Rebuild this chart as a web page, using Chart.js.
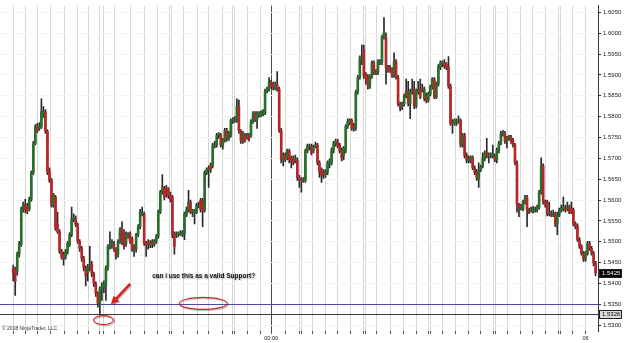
<!DOCTYPE html>
<html>
<head>
<meta charset="utf-8">
<script src="https://cdn.jsdelivr.net/npm/chart.js@4.4.0/dist/chart.umd.min.js"></script>
<style>
  html, body { margin: 0; padding: 0; background: #fff; }
  canvas { display: block; }
</style>
</head>
<body>
<canvas id="chart" width="625" height="343"></canvas>
<script>
// 10-minute bars (bar 0 = left edge)
const opens = [
  1.5437,1.5434,1.5430,1.5470,1.5493,1.5578,1.5588,1.5585,1.5578,1.5602,
  1.5666,1.5736,1.5779,1.5772,1.5776,1.5802,1.5812,1.5765,1.5670,1.5647,
  1.5588,1.5607,1.5541,1.5524,1.5477,1.5468,1.5465,1.5477,1.5493,1.5517,
  1.5552,1.5555,1.5541,1.5501,1.5484,1.5460,1.5437,1.5425,1.5439,1.5446,
  1.5423,1.5399,1.5376,1.5347,1.5387,1.5390,1.5394,1.5437,1.5486,1.5491,
  1.5493,1.5482,1.5470,1.5501,1.5529,1.5520,1.5496,1.5515,1.5520,1.5508,
  1.5486,1.5482,1.5517,1.5536,1.5567,1.5567,1.5496,1.5501,1.5493,1.5501,
  1.5493,1.5501,1.5512,1.5571,1.5619,1.5628,1.5630,1.5626,1.5611,1.5607,
  1.5520,1.5517,1.5517,1.5517,1.5517,1.5520,1.5564,1.5576,1.5595,1.5571,
  1.5571,1.5571,1.5585,1.5600,1.5597,1.5576,1.5666,1.5673,1.5684,1.5682,
  1.5729,1.5732,1.5755,1.5755,1.5729,1.5743,1.5767,1.5748,1.5755,1.5791,
  1.5791,1.5791,1.5826,1.5765,1.5746,1.5755,1.5751,1.5755,1.5755,1.5788,
  1.5807,1.5793,1.5802,1.5805,1.5807,1.5809,1.5861,1.5866,1.5883,1.5878,
  1.5868,1.5878,1.5866,1.5767,1.5696,1.5708,1.5701,1.5718,1.5701,1.5701,
  1.5694,1.5696,1.5654,1.5649,1.5647,1.5647,1.5718,1.5727,1.5729,1.5718,
  1.5729,1.5732,1.5689,1.5673,1.5668,1.5661,1.5666,1.5689,1.5689,1.5720,
  1.5734,1.5741,1.5732,1.5720,1.5706,1.5720,1.5776,1.5786,1.5791,1.5779,
  1.5772,1.5859,1.5894,1.5937,1.5960,1.5901,1.5897,1.5873,1.5897,1.5930,
  1.5908,1.5906,1.5930,1.5930,1.5991,1.5991,1.5918,1.5918,1.5913,1.5899,
  1.5932,1.5894,1.5831,1.5824,1.5831,1.5850,1.5861,1.5831,1.5859,1.5866,
  1.5826,1.5859,1.5866,1.5866,1.5843,1.5852,1.5840,1.5854,1.5871,1.5890,
  1.5847,1.5878,1.5918,1.5927,1.5930,1.5925,1.5920,1.5873,1.5788,1.5784,
  1.5786,1.5788,1.5791,1.5732,1.5755,1.5708,1.5694,1.5696,1.5701,1.5677,
  1.5666,1.5649,1.5673,1.5682,1.5699,1.5713,1.5706,1.5706,1.5706,1.5706,
  1.5696,1.5718,1.5736,1.5758,1.5760,1.5743,1.5748,1.5751,1.5743,1.5732,
  1.5689,1.5588,1.5585,1.5578,1.5595,1.5607,1.5576,1.5576,1.5574,1.5576,
  1.5576,1.5583,1.5619,1.5682,1.5595,1.5595,1.5567,1.5569,1.5564,1.5567,
  1.5543,1.5564,1.5576,1.5578,1.5581,1.5578,1.5583,1.5581,1.5576,1.5543,
  1.5538,1.5505,1.5489,1.5472,1.5458,1.5472,1.5496,1.5484,1.5472,1.5449
];
const highs = [
  1.5444,1.5439,1.5475,1.5501,1.5583,1.5595,1.5602,1.5592,1.5607,1.5670,
  1.5741,1.5781,1.5784,1.5786,1.5843,1.5824,1.5817,1.5769,1.5677,1.5652,
  1.5616,1.5611,1.5571,1.5529,1.5482,1.5475,1.5482,1.5501,1.5522,1.5583,
  1.5567,1.5562,1.5545,1.5505,1.5489,1.5465,1.5442,1.5446,1.5489,1.5453,
  1.5427,1.5404,1.5380,1.5392,1.5402,1.5406,1.5442,1.5493,1.5524,1.5505,
  1.5501,1.5486,1.5505,1.5534,1.5548,1.5529,1.5524,1.5522,1.5524,1.5512,
  1.5493,1.5520,1.5541,1.5578,1.5583,1.5571,1.5501,1.5505,1.5503,1.5505,
  1.5505,1.5517,1.5576,1.5623,1.5661,1.5633,1.5635,1.5630,1.5619,1.5611,
  1.5524,1.5524,1.5524,1.5527,1.5527,1.5571,1.5583,1.5623,1.5600,1.5578,
  1.5578,1.5592,1.5595,1.5604,1.5604,1.5670,1.5677,1.5682,1.5689,1.5736,
  1.5741,1.5760,1.5762,1.5760,1.5748,1.5772,1.5772,1.5765,1.5795,1.5798,
  1.5800,1.5843,1.5840,1.5769,1.5765,1.5760,1.5760,1.5760,1.5793,1.5812,
  1.5812,1.5812,1.5812,1.5814,1.5817,1.5866,1.5871,1.5894,1.5887,1.5883,
  1.5883,1.5908,1.5871,1.5772,1.5713,1.5713,1.5722,1.5722,1.5706,1.5706,
  1.5708,1.5701,1.5659,1.5654,1.5654,1.5722,1.5734,1.5734,1.5734,1.5732,
  1.5739,1.5736,1.5694,1.5677,1.5673,1.5673,1.5694,1.5699,1.5725,1.5741,
  1.5746,1.5746,1.5736,1.5725,1.5729,1.5781,1.5795,1.5795,1.5795,1.5784,
  1.5864,1.5899,1.5946,1.5972,1.5972,1.5906,1.5901,1.5901,1.5934,1.5934,
  1.5913,1.5937,1.5937,1.5996,1.6038,1.6001,1.5923,1.5923,1.5918,1.5953,
  1.5937,1.5899,1.5835,1.5835,1.5854,1.5890,1.5885,1.5866,1.5890,1.5885,
  1.5866,1.5885,1.5890,1.5878,1.5871,1.5857,1.5859,1.5876,1.5894,1.5894,
  1.5883,1.5925,1.5934,1.5934,1.5937,1.5930,1.5944,1.5878,1.5793,1.5795,
  1.5795,1.5802,1.5795,1.5760,1.5760,1.5713,1.5706,1.5706,1.5706,1.5682,
  1.5673,1.5689,1.5684,1.5713,1.5718,1.5748,1.5713,1.5713,1.5732,1.5710,
  1.5725,1.5741,1.5765,1.5767,1.5765,1.5753,1.5755,1.5755,1.5748,1.5736,
  1.5694,1.5592,1.5590,1.5600,1.5611,1.5611,1.5581,1.5583,1.5585,1.5583,
  1.5588,1.5623,1.5701,1.5687,1.5600,1.5600,1.5595,1.5574,1.5576,1.5571,
  1.5571,1.5581,1.5588,1.5607,1.5588,1.5595,1.5588,1.5595,1.5581,1.5548,
  1.5543,1.5510,1.5493,1.5477,1.5477,1.5501,1.5501,1.5489,1.5477,1.5453
];
const lows = [
  1.5406,1.5371,1.5420,1.5463,1.5489,1.5571,1.5569,1.5567,1.5574,1.5597,
  1.5661,1.5732,1.5762,1.5767,1.5772,1.5798,1.5760,1.5661,1.5642,1.5583,
  1.5583,1.5527,1.5520,1.5472,1.5458,1.5444,1.5458,1.5470,1.5489,1.5512,
  1.5548,1.5536,1.5496,1.5477,1.5453,1.5430,1.5394,1.5406,1.5430,1.5416,
  1.5392,1.5369,1.5343,1.5326,1.5359,1.5378,1.5359,1.5432,1.5482,1.5484,
  1.5477,1.5458,1.5463,1.5496,1.5493,1.5482,1.5489,1.5508,1.5496,1.5477,
  1.5465,1.5475,1.5512,1.5531,1.5562,1.5491,1.5465,1.5482,1.5486,1.5486,
  1.5489,1.5496,1.5508,1.5567,1.5614,1.5600,1.5607,1.5604,1.5595,1.5510,
  1.5470,1.5510,1.5512,1.5515,1.5512,1.5505,1.5560,1.5571,1.5567,1.5560,
  1.5543,1.5567,1.5581,1.5571,1.5536,1.5571,1.5661,1.5630,1.5666,1.5677,
  1.5725,1.5727,1.5748,1.5727,1.5722,1.5739,1.5741,1.5743,1.5751,1.5784,
  1.5786,1.5786,1.5760,1.5736,1.5736,1.5739,1.5746,1.5741,1.5751,1.5784,
  1.5788,1.5772,1.5798,1.5800,1.5802,1.5805,1.5857,1.5861,1.5868,1.5864,
  1.5864,1.5861,1.5762,1.5689,1.5682,1.5692,1.5696,1.5689,1.5677,1.5684,
  1.5689,1.5647,1.5630,1.5619,1.5642,1.5642,1.5713,1.5720,1.5708,1.5713,
  1.5725,1.5684,1.5654,1.5642,1.5652,1.5654,1.5661,1.5677,1.5684,1.5713,
  1.5729,1.5725,1.5713,1.5694,1.5696,1.5713,1.5772,1.5781,1.5767,1.5765,
  1.5767,1.5854,1.5890,1.5925,1.5892,1.5878,1.5866,1.5868,1.5892,1.5901,
  1.5901,1.5901,1.5925,1.5925,1.5986,1.5878,1.5906,1.5906,1.5894,1.5894,
  1.5890,1.5826,1.5814,1.5817,1.5826,1.5845,1.5826,1.5795,1.5854,1.5819,
  1.5821,1.5854,1.5843,1.5859,1.5838,1.5833,1.5835,1.5850,1.5866,1.5843,
  1.5843,1.5873,1.5913,1.5920,1.5916,1.5913,1.5868,1.5779,1.5760,1.5779,
  1.5779,1.5784,1.5727,1.5727,1.5701,1.5689,1.5689,1.5689,1.5673,1.5661,
  1.5647,1.5630,1.5668,1.5677,1.5694,1.5701,1.5689,1.5701,1.5701,1.5692,
  1.5689,1.5713,1.5732,1.5753,1.5736,1.5725,1.5743,1.5736,1.5727,1.5684,
  1.5571,1.5560,1.5576,1.5574,1.5590,1.5536,1.5567,1.5571,1.5569,1.5571,
  1.5571,1.5578,1.5614,1.5590,1.5583,1.5562,1.5562,1.5560,1.5560,1.5536,
  1.5517,1.5560,1.5571,1.5574,1.5571,1.5574,1.5567,1.5567,1.5538,1.5531,
  1.5501,1.5484,1.5468,1.5453,1.5453,1.5468,1.5479,1.5468,1.5442,1.5418
];
const closes = [
  1.5425,1.5404,1.5470,1.5493,1.5578,1.5590,1.5576,1.5574,1.5602,1.5666,
  1.5736,1.5776,1.5767,1.5779,1.5812,1.5812,1.5765,1.5666,1.5647,1.5588,
  1.5611,1.5531,1.5524,1.5477,1.5465,1.5460,1.5477,1.5496,1.5517,1.5555,
  1.5557,1.5541,1.5501,1.5484,1.5460,1.5437,1.5418,1.5439,1.5444,1.5423,
  1.5399,1.5376,1.5352,1.5387,1.5392,1.5399,1.5437,1.5489,1.5493,1.5496,
  1.5484,1.5468,1.5501,1.5529,1.5501,1.5489,1.5517,1.5517,1.5501,1.5482,
  1.5482,1.5517,1.5536,1.5571,1.5571,1.5496,1.5493,1.5493,1.5498,1.5493,
  1.5501,1.5512,1.5571,1.5619,1.5630,1.5607,1.5614,1.5611,1.5602,1.5517,
  1.5489,1.5520,1.5520,1.5520,1.5522,1.5567,1.5576,1.5595,1.5571,1.5574,
  1.5574,1.5588,1.5588,1.5576,1.5576,1.5666,1.5673,1.5677,1.5673,1.5732,
  1.5732,1.5755,1.5758,1.5732,1.5743,1.5767,1.5748,1.5760,1.5791,1.5793,
  1.5795,1.5826,1.5765,1.5741,1.5760,1.5743,1.5755,1.5746,1.5788,1.5807,
  1.5795,1.5807,1.5807,1.5809,1.5812,1.5861,1.5866,1.5883,1.5873,1.5871,
  1.5878,1.5866,1.5767,1.5696,1.5706,1.5696,1.5718,1.5696,1.5694,1.5689,
  1.5701,1.5654,1.5647,1.5647,1.5649,1.5718,1.5729,1.5729,1.5713,1.5727,
  1.5732,1.5689,1.5666,1.5659,1.5661,1.5668,1.5689,1.5694,1.5720,1.5736,
  1.5741,1.5729,1.5718,1.5701,1.5725,1.5776,1.5788,1.5791,1.5772,1.5772,
  1.5859,1.5894,1.5942,1.5942,1.5897,1.5890,1.5873,1.5897,1.5930,1.5906,
  1.5906,1.5932,1.5932,1.5991,1.6001,1.5918,1.5913,1.5911,1.5899,1.5932,
  1.5894,1.5831,1.5821,1.5831,1.5850,1.5861,1.5831,1.5861,1.5861,1.5824,
  1.5861,1.5866,1.5847,1.5864,1.5866,1.5838,1.5854,1.5871,1.5890,1.5847,
  1.5878,1.5920,1.5930,1.5930,1.5920,1.5918,1.5873,1.5784,1.5784,1.5791,
  1.5791,1.5791,1.5732,1.5755,1.5706,1.5696,1.5701,1.5701,1.5677,1.5666,
  1.5654,1.5670,1.5680,1.5701,1.5713,1.5706,1.5708,1.5708,1.5708,1.5696,
  1.5720,1.5736,1.5760,1.5762,1.5741,1.5748,1.5751,1.5741,1.5732,1.5689,
  1.5588,1.5583,1.5581,1.5595,1.5607,1.5576,1.5571,1.5578,1.5578,1.5578,
  1.5583,1.5619,1.5682,1.5595,1.5590,1.5567,1.5569,1.5564,1.5569,1.5541,
  1.5564,1.5576,1.5581,1.5583,1.5576,1.5583,1.5571,1.5571,1.5543,1.5536,
  1.5505,1.5489,1.5472,1.5458,1.5472,1.5496,1.5484,1.5472,1.5449,1.5425
];

const yTickValues = [1.5300,1.5350,1.5400,1.5450,1.5500,1.5550,1.5600,1.5650,
                     1.5700,1.5750,1.5800,1.5850,1.5900,1.5950,1.6000,1.6050];
// hourly grid lines, in bar units
const gridBars = [0,6,12,18.5,25.5,32,37.5,43,45,50.5,58,65,71.5,77.5,78.5,84.5,91.5,97,
                  104,109,110,116.5,122.5,128,135,142,143,148.5,155,161,167.5,174,175,
                  180.5,187,193.5,200,206,207,213,219.5,226,232,238.5,239.5,245.5,251.5,
                  257.5,264,270.5,271.5,277.5,284];
const dayBreak = 128;
const xTickLabels = { 128: '00:00', 284: '06' };
const supportLevel = 1.5326;
const blueLevel = 1.5350;

const upColor = '#2b6e2c';
const downColor = '#b3272a';

const wickData = highs.map((h, i) => ({ x: i, y: [lows[i], h] }));
const bodyData = opens.map((o, i) => ({ x: i, y: [Math.min(o, closes[i]), Math.max(o, closes[i])] }));
const bodyColors = opens.map((o, i) => closes[i] >= o ? upColor : downColor);

function priceBox(ctx, left, yPix, text, fill, textColor) {
  ctx.fillStyle = fill;
  ctx.fillRect(left, yPix - 4, 23, 8);
  ctx.strokeStyle = '#222';
  ctx.lineWidth = 1;
  ctx.strokeRect(left + 0.5, Math.round(yPix - 4) + 0.5, 22, 8);
  ctx.fillStyle = textColor;
  ctx.font = '6px "Liberation Sans", Arial, sans-serif';
  ctx.textAlign = 'left';
  ctx.textBaseline = 'middle';
  ctx.fillText(text, left + 3, yPix + 0.5);
}

const overlay = {
  id: 'overlay',
  beforeDatasetsDraw(chart) {
    const { ctx, chartArea: a, scales: { y } } = chart;
    ctx.save();
    ctx.lineWidth = 1;
    let py = Math.round(y.getPixelForValue(blueLevel)) + 0.5;
    ctx.strokeStyle = '#4b4ba5';
    ctx.beginPath(); ctx.moveTo(a.left, py); ctx.lineTo(a.right, py); ctx.stroke();
    py = Math.round(y.getPixelForValue(supportLevel)) + 0.5;
    ctx.strokeStyle = '#3c3c3c';
    ctx.beginPath(); ctx.moveTo(a.left, py); ctx.lineTo(a.right, py); ctx.stroke();
    ctx.restore();
  },
  afterDraw(chart) {
    const { ctx, chartArea: a, scales: { x, y } } = chart;
    ctx.save();

    // boxes on the price axis
    priceBox(ctx, a.right + 1, y.getPixelForValue(closes[closes.length - 1]),
             closes[closes.length - 1].toFixed(4), '#000', '#fff');
    priceBox(ctx, a.right + 1, y.getPixelForValue(supportLevel),
             supportLevel.toFixed(4), '#dcdcdc', '#000');

    // red rings
    ctx.shadowColor = 'rgba(0,0,0,0.3)';
    ctx.shadowOffsetX = 1; ctx.shadowOffsetY = 1; ctx.shadowBlur = 1;
    ctx.strokeStyle = '#cc2b2b';
    ctx.lineWidth = 1.1;
    [[44.8, 1.5312, 10, 4.5], [94.3, 1.5352, 24, 6]].forEach(([i, p, rx, ry]) => {
      ctx.beginPath();
      ctx.ellipse(x.getPixelForValue(i), y.getPixelForValue(p), rx, ry, 0, 0, Math.PI * 2);
      ctx.stroke();
    });

    // arrow
    const tx = x.getPixelForValue(58), ty = y.getPixelForValue(1.5399);
    const hx = x.getPixelForValue(48.5), hy = y.getPixelForValue(1.5350);
    const ang = Math.atan2(hy - ty, hx - tx);
    ctx.strokeStyle = '#dd2020';
    ctx.fillStyle = '#dd2020';
    ctx.lineWidth = 2.5;
    ctx.beginPath();
    ctx.moveTo(tx, ty);
    ctx.lineTo(hx - 6 * Math.cos(ang), hy - 6 * Math.sin(ang));
    ctx.stroke();
    ctx.beginPath();
    ctx.moveTo(hx, hy);
    ctx.lineTo(hx - 8 * Math.cos(ang) + 4 * Math.sin(ang), hy - 8 * Math.sin(ang) - 4 * Math.cos(ang));
    ctx.lineTo(hx - 8 * Math.cos(ang) - 4 * Math.sin(ang), hy - 8 * Math.sin(ang) + 4 * Math.cos(ang));
    ctx.closePath();
    ctx.fill();

    // question text
    ctx.shadowColor = 'rgba(0,0,0,0.35)';
    ctx.shadowBlur = 1.5;
    ctx.fillStyle = '#111';
    ctx.font = 'bold 6.5px "Liberation Sans", Arial, sans-serif';
    ctx.textAlign = 'center';
    ctx.textBaseline = 'middle';
    ctx.fillText('can i use this as a valid Support?', x.getPixelForValue(94.5), y.getPixelForValue(1.5418));

    // copyright
    ctx.shadowColor = 'transparent';
    ctx.fillStyle = '#333';
    ctx.font = '5px "Liberation Sans", Arial, sans-serif';
    ctx.textAlign = 'left';
    ctx.textBaseline = 'alphabetic';
    ctx.fillText('\u00a9 2008 NinjaTrader, LLC', a.left + 2, a.bottom - 1);
    ctx.restore();
  }
};

const ctx = document.getElementById('chart').getContext('2d');
new Chart(ctx, {
  type: 'bar',
  data: {
    datasets: [
      {
        label: 'wick',
        data: wickData,
        backgroundColor: '#2a2a2a',
        barThickness: 1,
        grouped: false,
        order: 2
      },
      {
        label: 'body',
        data: bodyData,
        backgroundColor: bodyColors,
        barThickness: 2,
        minBarLength: 1,
        grouped: false,
        order: 1
      }
    ]
  },
  options: {
    responsive: false,
    devicePixelRatio: 1,
    animation: false,
    events: [],
    layout: { padding: 0 },
    plugins: { legend: { display: false }, tooltip: { enabled: false } },
    scales: {
      x: {
        type: 'linear',
        min: -6.55,
        max: 290.2,
        offset: false,
        afterBuildTicks: (s) => { s.ticks = gridBars.map(v => ({ value: v })); },
        afterFit: (s) => { s.height = 12; },
        border: { display: false },
        grid: {
          offset: false,
          color: (c) => c.tick && c.tick.value === dayBreak ? '#4a4a4a' : '#d6d6d6',
          tickColor: '#555',
          tickLength: 3
        },
        ticks: {
          autoSkip: false,
          maxRotation: 0,
          minRotation: 0,
          padding: 1,
          color: '#222',
          font: { size: 5.5, family: '"Liberation Sans", Arial, sans-serif' },
          callback: (v) => xTickLabels[v] || ''
        }
      },
      y: {
        type: 'linear',
        position: 'right',
        beginAtZero: false,
        min: 1.52858,
        max: 1.60665,
        afterBuildTicks: (s) => { s.ticks = yTickValues.map(v => ({ value: v })); },
        afterFit: (s) => { s.width = 27; },
        border: { display: true, color: '#333', width: 1 },
        grid: { color: '#f5f5ef', tickColor: '#333', tickLength: 3 },
        ticks: {
          padding: 2,
          color: '#222',
          font: { size: 6, family: '"Liberation Sans", Arial, sans-serif' },
          callback: (v) => Number(v).toFixed(4)
        }
      }
    }
  },
  plugins: [overlay]
});
</script>
</body>
</html>
